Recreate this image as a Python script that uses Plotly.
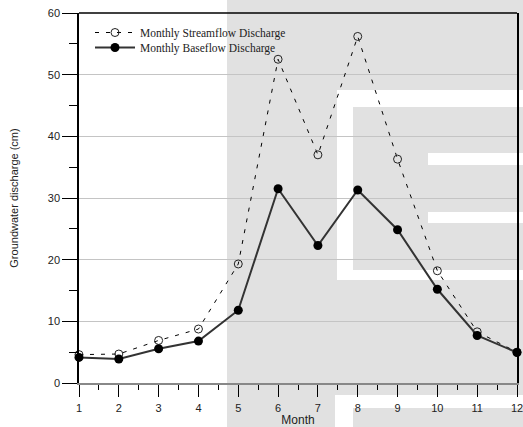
import plotly.graph_objects as go

months = [1, 2, 3, 4, 5, 6, 7, 8, 9, 10, 11, 12]
streamflow = [4.6, 4.7, 6.9, 8.75, 19.3, 52.5, 37.0, 56.2, 36.3, 18.2, 8.3, 5.0]
baseflow = [4.15, 3.9, 5.55, 6.8, 11.8, 31.5, 22.3, 31.3, 24.85, 15.2, 7.7, 4.95]
x_ticks = months
y_ticks = [0, 10, 20, 30, 40, 50, 60]

W, H = 523, 427
L, R, T, B = 79, 517, 13, 383


def px(xp):
    return (xp - L) / (R - L)


def py(yp):
    return (B - yp) / (B - T)


fig = go.Figure()
fig.add_trace(go.Scatter(
    x=months, y=streamflow, mode="lines+markers",
    name="Monthly Streamflow Discharge",
    line=dict(color="black", width=1, dash="4px,7px"),
    marker=dict(symbol="circle-open", size=8, color="#222", line=dict(width=1)),
    cliponaxis=False, legend="legend",
))
fig.add_trace(go.Scatter(
    x=months, y=baseflow, mode="lines+markers",
    name="Monthly Baseflow Discharge",
    line=dict(color="#333333", width=2),
    marker=dict(symbol="circle", size=9, color="black"),
    cliponaxis=False, legend="legend2",
))

gray = "#e1e1e1"
shapes = [
    dict(type="rect", xref="paper", yref="paper", x0=px(227), x1=px(524), y0=py(0), y1=py(395),
         fillcolor=gray, line=dict(width=0), layer="below"),
    dict(type="rect", xref="paper", yref="paper", x0=px(227), x1=px(335), y0=py(395), y1=py(428),
         fillcolor=gray, line=dict(width=0), layer="below"),
    dict(type="rect", xref="paper", yref="paper", x0=px(353), x1=px(524), y0=py(408), y1=py(428),
         fillcolor=gray, line=dict(width=0), layer="below"),
    dict(type="rect", xref="paper", yref="paper", x0=px(337), x1=px(524), y0=py(90), y1=py(280),
         fillcolor="white", line=dict(width=0), layer="below"),
    dict(type="rect", xref="paper", yref="paper", x0=px(353), x1=px(524), y0=py(107), y1=py(270),
         fillcolor=gray, line=dict(width=0), layer="below"),
    dict(type="rect", xref="paper", yref="paper", x0=px(428), x1=px(524), y0=py(153), y1=py(165),
         fillcolor="white", line=dict(width=0), layer="below"),
    dict(type="rect", xref="paper", yref="paper", x0=px(428), x1=px(524), y0=py(212), y1=py(223),
         fillcolor="white", line=dict(width=0), layer="below"),
    dict(type="line", xref="paper", yref="paper", x0=0, x1=1, y0=1, y1=1,
         line=dict(color="black", width=1.5)),
]

legend_font = dict(family="Liberation Serif, Times New Roman", size=11.5, color="#222")

fig.update_layout(
    width=W, height=H,
    margin=dict(l=L, r=W - R, t=T, b=H - B, autoexpand=False),
    paper_bgcolor="white",
    plot_bgcolor="rgba(0,0,0,0)",
    font=dict(family="Liberation Sans, Arial", size=11, color="#222"),
    shapes=shapes,
    showlegend=True,
    legend=dict(
        x=px(90), y=py(32.5), xanchor="left", yanchor="middle",
        bgcolor="rgba(0,0,0,0)", font=legend_font, itemwidth=40,
    ),
    legend2=dict(
        x=px(90), y=py(47.5), xanchor="left", yanchor="middle",
        bgcolor="rgba(0,0,0,0)", font=legend_font, itemwidth=40,
    ),
    xaxis=dict(
        range=[1, 12], tickvals=x_ticks, ticktext=[str(v) for v in x_ticks],
        showgrid=False, zeroline=False,
        showline=True, linecolor="#888", linewidth=1.5,
        ticks="outside", ticklen=12, tickwidth=1.3, tickcolor="black",
        minor=dict(dtick=0.5, ticks="outside", ticklen=5, tickwidth=1.3, tickcolor="black", showgrid=False),
        title=dict(text="Month", font=dict(size=12), standoff=8),
        tickfont=dict(size=11), ticklabelstandoff=2,
        ticklabeloverflow="allow",
        automargin=False,
    ),
    yaxis=dict(
        range=[0, 60], tickvals=y_ticks,
        showgrid=True, gridcolor="#c4c4c4", gridwidth=1,
        zeroline=False,
        showline=True, linecolor="black", linewidth=1.5, mirror=True,
        ticks="outside", ticklen=15, tickwidth=1.3, tickcolor="black",
        minor=dict(dtick=5, ticks="outside", ticklen=8, tickwidth=1.3, tickcolor="black", showgrid=False),
        title=dict(text="Groundwater discharge (cm)", font=dict(size=11), standoff=27),
        tickfont=dict(size=11),
        automargin=False,
    ),
)

fig.write_html("out.html", post_script="document.body.style.margin='0';",
               config={"displayModeBar": False})
